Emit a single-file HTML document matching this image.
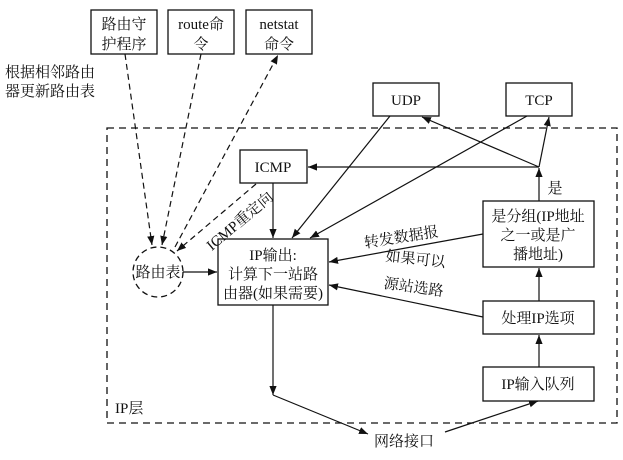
<!DOCTYPE html>
<html><head><meta charset="utf-8"><style>
html,body{margin:0;padding:0;background:#fff;}
svg{display:block;}
text{font-family:"Liberation Serif","Noto Serif CJK SC",serif;font-size:15px;fill:#111;}
</style></head><body>
<svg width="623" height="460" viewBox="0 0 623 460" xmlns="http://www.w3.org/2000/svg">
<defs>
<marker id="a" viewBox="0 0 10 10" refX="10" refY="5" markerWidth="9" markerHeight="9" orient="auto-start-reverse" markerUnits="userSpaceOnUse"><path d="M0,1 L10,5 L0,9 z" fill="#111"/></marker>
</defs>
<g fill="none" stroke="#111" stroke-width="1.3">
<rect x="107" y="128" width="510" height="295" stroke-dasharray="7,5"/>
<rect x="91" y="10" width="66" height="44"/>
<rect x="168" y="10" width="66" height="44"/>
<rect x="246" y="10" width="66" height="44"/>
<rect x="373" y="83" width="66" height="33"/>
<rect x="506" y="83" width="66" height="33"/>
<rect x="240" y="150" width="67" height="33"/>
<rect x="218" y="239" width="110" height="66"/>
<rect x="483" y="201" width="111" height="66"/>
<rect x="483" y="301" width="111" height="33"/>
<rect x="483" y="367" width="111" height="34"/>
<circle cx="158" cy="272" r="25" stroke-dasharray="6,4"/>
</g>
<g stroke="#111" stroke-width="1.2" fill="none" marker-end="url(#a)">
<line x1="125" y1="54" x2="152" y2="245" stroke-dasharray="6,4"/>
<line x1="201" y1="54" x2="162" y2="245" stroke-dasharray="6,4"/>
<line x1="175" y1="247" x2="278" y2="55" stroke-dasharray="6,4"/>
<line x1="256" y1="184" x2="177" y2="251" stroke-dasharray="6,4"/>
<line x1="183" y1="272" x2="217" y2="272"/>
<line x1="273" y1="183" x2="273" y2="238"/>
<line x1="390" y1="116" x2="292" y2="238"/>
<line x1="527" y1="116" x2="310" y2="238"/>
<line x1="539" y1="167" x2="308" y2="167"/>
<line x1="539" y1="167" x2="422" y2="117"/>
<line x1="539" y1="167" x2="549" y2="117"/>
<line x1="539" y1="201" x2="539" y2="168"/>
<line x1="539" y1="301" x2="539" y2="268"/>
<line x1="539" y1="367" x2="539" y2="335"/>
<line x1="483" y1="234" x2="329" y2="262"/>
<line x1="483" y1="317" x2="329" y2="285"/>
<line x1="273" y1="305" x2="273" y2="395"/>
<line x1="273" y1="395" x2="368" y2="434"/>
<line x1="445" y1="432" x2="538" y2="401"/>
</g>
<text x="124" y="29" text-anchor="middle">路由守</text>
<text x="124" y="49" text-anchor="middle">护程序</text>
<text x="201" y="29" text-anchor="middle">route命</text>
<text x="201" y="49" text-anchor="middle">令</text>
<text x="279" y="29" text-anchor="middle">netstat</text>
<text x="279" y="49" text-anchor="middle">命令</text>
<text x="5" y="77">根据相邻路由</text>
<text x="5" y="96">器更新路由表</text>
<text x="406" y="105" text-anchor="middle">UDP</text>
<text x="539" y="105" text-anchor="middle">TCP</text>
<text x="273" y="172" text-anchor="middle">ICMP</text>
<text x="273" y="260" text-anchor="middle">IP输出:</text>
<text x="273" y="279" text-anchor="middle">计算下一站路</text>
<text x="273" y="298" text-anchor="middle">由器(如果需要)</text>
<text x="158" y="277" text-anchor="middle">路由表</text>
<text x="538" y="221" text-anchor="middle">是分组(IP地址</text>
<text x="538" y="240" text-anchor="middle">之一或是广</text>
<text x="538" y="259" text-anchor="middle">播地址)</text>
<text x="538" y="323" text-anchor="middle">处理IP选项</text>
<text x="538" y="389" text-anchor="middle">IP输入队列</text>
<text x="555" y="193" text-anchor="middle">是</text>
<text x="115" y="413">IP层</text>
<text x="404" y="446" text-anchor="middle">网络接口</text>
<text x="0" y="0" transform="translate(402,242) rotate(-9)" text-anchor="middle">转发数据报</text>
<text x="0" y="0" transform="translate(415,264) rotate(6)" text-anchor="middle">如果可以</text>
<text x="0" y="0" transform="translate(413,292) rotate(8)" text-anchor="middle">源站选路</text>
<text x="0" y="0" transform="translate(243,225) rotate(-40)" text-anchor="middle">ICMP重定向</text>
</svg>
</body></html>
